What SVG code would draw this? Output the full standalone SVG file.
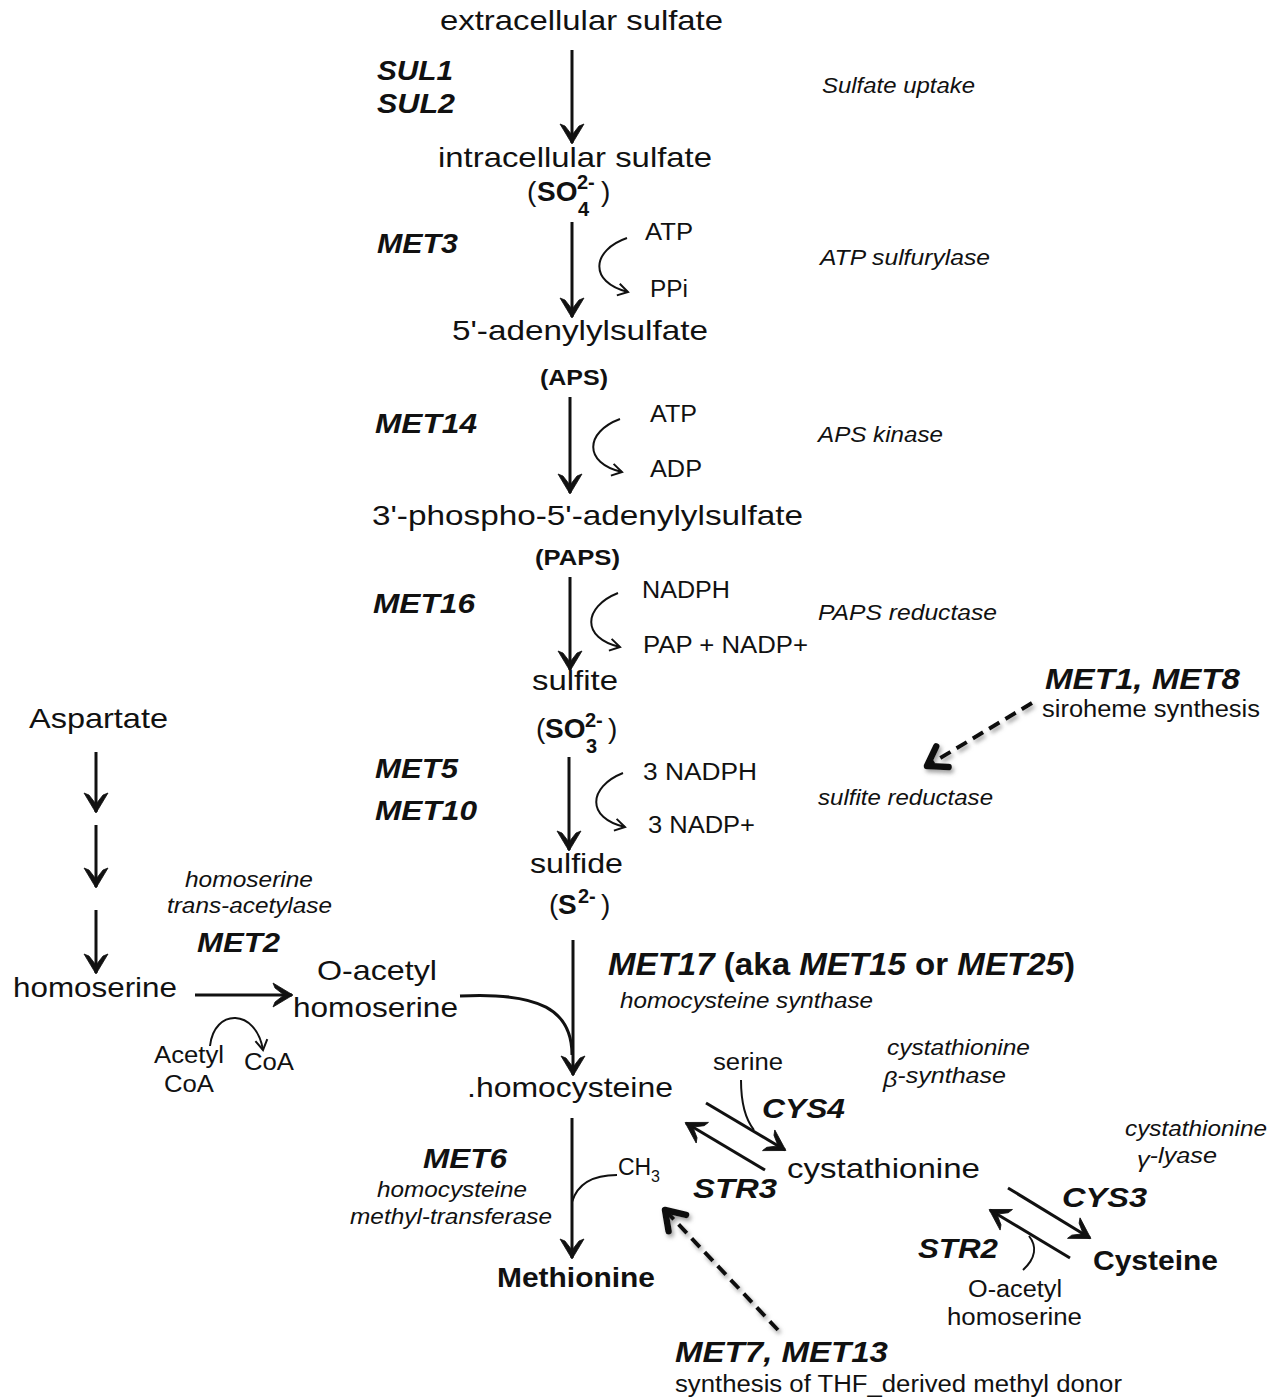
<svg xmlns="http://www.w3.org/2000/svg" width="1277" height="1400" viewBox="0 0 1277 1400">
<style>
text{font-family:"Liberation Sans",Arial,sans-serif;fill:#111}
.c{font-size:28px}
.cb{font-size:27px;font-weight:bold}
.ab{font-size:22px;font-weight:bold}
.r{font-size:23px}
.g{font-size:28px;font-weight:bold;font-style:italic}
.gb{font-size:29px;font-weight:bold;font-style:italic}
.e{font-size:22px;font-style:italic}
.n{font-size:23px}
.sm{font-size:20px;font-weight:bold}
.ln{fill:none;stroke:#111;stroke-width:3}
.th{fill:none;stroke:#111;stroke-width:2}
.ds{fill:none;stroke:#111;stroke-width:4;stroke-dasharray:12 7}
</style>
<defs>
<marker id="arr" markerUnits="userSpaceOnUse" orient="auto" markerWidth="40" markerHeight="40" refX="0" refY="0" overflow="visible">
<path d="M1,0 L-19,-12 L-17,-7 L-8,0 L-17,7 L-19,12 Z" fill="#111" stroke="#111" stroke-width="0.8" stroke-linejoin="round"/>
</marker>
<marker id="oa" markerUnits="userSpaceOnUse" orient="auto" markerWidth="30" markerHeight="30" refX="0" refY="0" overflow="visible">
<path d="M-10,-6 L0,0 L-10,6" fill="none" stroke="#111" stroke-width="2"/>
</marker>
<marker id="da" markerUnits="userSpaceOnUse" orient="auto" markerWidth="40" markerHeight="40" refX="0" refY="0" overflow="visible">
<path d="M-18,-12 L0,0 L-18,12" fill="none" stroke="#111" stroke-width="6.5" stroke-linecap="round" stroke-linejoin="round"/>
</marker>
<filter id="sh" x="-20%" y="-20%" width="140%" height="140%">
<feDropShadow dx="2" dy="3" stdDeviation="2" flood-color="#777" flood-opacity="0.7"/>
</filter>
</defs>
<rect width="1277" height="1400" fill="#fff"/>

<g id="connectors">
<line class="ln" x1="572" y1="50" x2="572" y2="143" marker-end="url(#arr)"/>
<line class="ln" x1="572" y1="222" x2="572" y2="317" marker-end="url(#arr)"/>
<line class="ln" x1="570" y1="397" x2="570" y2="493" marker-end="url(#arr)"/>
<line class="ln" x1="570" y1="577" x2="570" y2="670" marker-end="url(#arr)"/>
<line class="ln" x1="569" y1="757" x2="569" y2="850" marker-end="url(#arr)"/>
<line class="ln" x1="573" y1="940" x2="573" y2="1075" marker-end="url(#arr)"/>
<line class="ln" x1="572" y1="1118" x2="572" y2="1258" marker-end="url(#arr)"/>
<path class="th" d="M627,238 C592,250 588,282 628,292" marker-end="url(#oa)"/>
<path class="th" d="M620,419 C585,432 583,463 622,472" marker-end="url(#oa)"/>
<path class="th" d="M618,593 C583,607 581,638 620,647" marker-end="url(#oa)"/>
<path class="th" d="M623,773 C588,787 586,818 625,827" marker-end="url(#oa)"/>
<line class="ln" x1="96" y1="752" x2="96" y2="812" marker-end="url(#arr)"/>
<line class="ln" x1="96" y1="825" x2="96" y2="887" marker-end="url(#arr)"/>
<line class="ln" x1="96" y1="910" x2="96" y2="973" marker-end="url(#arr)"/>
<line class="ln" x1="195" y1="995" x2="292" y2="995" marker-end="url(#arr)"/>
<path class="th" d="M210,1046 C214,1008 256,1008 263,1050" marker-end="url(#oa)"/>
<path class="ln" d="M460,996 C540,992 572,1010 572,1055"/>
<line class="ln" x1="706" y1="1103" x2="785" y2="1150" marker-end="url(#arr)"/>
<line class="ln" x1="765" y1="1170" x2="686" y2="1123" marker-end="url(#arr)"/>
<path class="th" d="M741,1080 C741,1105 746,1120 754,1130"/>
<line class="ln" x1="1008" y1="1188" x2="1090" y2="1238" marker-end="url(#arr)"/>
<line class="ln" x1="1070" y1="1258" x2="990" y2="1210" marker-end="url(#arr)"/>
<path class="th" d="M1023,1270 C1036,1258 1037,1246 1029,1236"/>
<path class="th" d="M572,1202 C578,1182 596,1175 617,1175"/>
<g filter="url(#sh)">
<line class="ds" x1="1032" y1="703" x2="927" y2="766" marker-end="url(#da)"/>
<line class="ds" x1="778" y1="1330" x2="665" y2="1210" marker-end="url(#da)"/>
</g>
</g>

<g id="extracellular-sulfate"><text class="c" x="440" y="30" textLength="283" lengthAdjust="spacingAndGlyphs">extracellular sulfate</text></g>
<g id="intracellular-sulfate">
<text class="c" x="438" y="167" textLength="274" lengthAdjust="spacingAndGlyphs">intracellular sulfate</text>
<text class="c"><tspan x="527" y="201">(</tspan><tspan x="537" y="201" font-weight="bold">SO</tspan><tspan x="578" y="216" class="sm">4</tspan><tspan x="577" y="189" class="sm">2-</tspan><tspan x="601" y="201">)</tspan></text>
</g>
<g id="aps">
<text class="c" x="452" y="340" textLength="256" lengthAdjust="spacingAndGlyphs">5'-adenylylsulfate</text>
<text class="ab" x="540" y="385" textLength="68" lengthAdjust="spacingAndGlyphs">(APS)</text>
</g>
<g id="paps">
<text class="c" x="372" y="525" textLength="431" lengthAdjust="spacingAndGlyphs">3'-phospho-5'-adenylylsulfate</text>
<text class="ab" x="535" y="565" textLength="85" lengthAdjust="spacingAndGlyphs">(PAPS)</text>
</g>
<g id="sulfite">
<text class="c" x="532" y="690" textLength="86" lengthAdjust="spacingAndGlyphs">sulfite</text>
<text class="c"><tspan x="536" y="738">(</tspan><tspan x="545" y="738" font-weight="bold">SO</tspan><tspan x="586" y="753" class="sm">3</tspan><tspan x="585" y="727" class="sm">2-</tspan><tspan x="608" y="738">)</tspan></text>
</g>
<g id="sulfide">
<text class="c" x="530" y="873" textLength="93" lengthAdjust="spacingAndGlyphs">sulfide</text>
<text class="c"><tspan x="549" y="914">(</tspan><tspan x="558" y="914" font-weight="bold">S</tspan><tspan x="578" y="903" class="sm">2-</tspan><tspan x="601" y="914">)</tspan></text>
</g>
<g id="cofactors">
<text class="r" x="645" y="240" textLength="48" lengthAdjust="spacingAndGlyphs">ATP</text>
<text class="r" x="650" y="297" textLength="38" lengthAdjust="spacingAndGlyphs">PPi</text>
<text class="r" x="650" y="422" textLength="47" lengthAdjust="spacingAndGlyphs">ATP</text>
<text class="r" x="650" y="477" textLength="52" lengthAdjust="spacingAndGlyphs">ADP</text>
<text class="r" x="642" y="598" textLength="88" lengthAdjust="spacingAndGlyphs">NADPH</text>
<text class="r" x="643" y="653" textLength="165" lengthAdjust="spacingAndGlyphs">PAP + NADP+</text>
<text class="r" x="643" y="780" textLength="114" lengthAdjust="spacingAndGlyphs">3 NADPH</text>
<text class="r" x="648" y="833" textLength="107" lengthAdjust="spacingAndGlyphs">3 NADP+</text>
</g>
<g id="genes">
<text class="g" x="377" y="80" textLength="76" lengthAdjust="spacingAndGlyphs">SUL1</text>
<text class="g" x="377" y="113" textLength="78" lengthAdjust="spacingAndGlyphs">SUL2</text>
<text class="g" x="377" y="253" textLength="81" lengthAdjust="spacingAndGlyphs">MET3</text>
<text class="g" x="375" y="433" textLength="102" lengthAdjust="spacingAndGlyphs">MET14</text>
<text class="g" x="373" y="613" textLength="102" lengthAdjust="spacingAndGlyphs">MET16</text>
<text class="g" x="375" y="778" textLength="83" lengthAdjust="spacingAndGlyphs">MET5</text>
<text class="g" x="375" y="820" textLength="102" lengthAdjust="spacingAndGlyphs">MET10</text>
</g>
<g id="enzymes">
<text class="e" x="822" y="93" textLength="153" lengthAdjust="spacingAndGlyphs">Sulfate uptake</text>
<text class="e" x="820" y="265" textLength="170" lengthAdjust="spacingAndGlyphs">ATP sulfurylase</text>
<text class="e" x="818" y="442" textLength="125" lengthAdjust="spacingAndGlyphs">APS kinase</text>
<text class="e" x="818" y="620" textLength="179" lengthAdjust="spacingAndGlyphs">PAPS reductase</text>
<text class="e" x="818" y="805" textLength="175" lengthAdjust="spacingAndGlyphs">sulfite reductase</text>
</g>
<g id="met1-met8">
<text class="gb" x="1045" y="689" textLength="195" lengthAdjust="spacingAndGlyphs">MET1, MET8</text>
<text class="n" x="1042" y="717" textLength="218" lengthAdjust="spacingAndGlyphs">siroheme synthesis</text>
</g>
<g id="aspartate"><text class="c" x="29" y="728" textLength="139" lengthAdjust="spacingAndGlyphs">Aspartate</text></g>
<g id="homoserine"><text class="c" x="13" y="997" textLength="164" lengthAdjust="spacingAndGlyphs">homoserine</text></g>
<g id="met2">
<text class="e" x="185" y="887" textLength="128" lengthAdjust="spacingAndGlyphs">homoserine</text>
<text class="e" x="167" y="913" textLength="165" lengthAdjust="spacingAndGlyphs">trans-acetylase</text>
<text class="g" x="197" y="952" textLength="83" lengthAdjust="spacingAndGlyphs">MET2</text>
<text class="r" x="154" y="1063" textLength="70" lengthAdjust="spacingAndGlyphs">Acetyl</text>
<text class="r" x="164" y="1092" textLength="50" lengthAdjust="spacingAndGlyphs">CoA</text>
<text class="r" x="244" y="1070" textLength="50" lengthAdjust="spacingAndGlyphs">CoA</text>
</g>
<g id="o-acetylhomoserine">
<text class="c" x="317" y="980" textLength="120" lengthAdjust="spacingAndGlyphs">O-acetyl</text>
<text class="c" x="293" y="1017" textLength="165" lengthAdjust="spacingAndGlyphs">homoserine</text>
</g>
<g id="met17">
<text style="font-size:32px;font-weight:bold" x="608" y="975" textLength="467" lengthAdjust="spacingAndGlyphs"><tspan font-style="italic">MET17</tspan> (aka <tspan font-style="italic">MET15</tspan> or <tspan font-style="italic">MET25</tspan>)</text>
<text class="e" x="620" y="1008" textLength="253" lengthAdjust="spacingAndGlyphs">homocysteine synthase</text>
</g>
<g id="homocysteine"><text class="c" x="467" y="1097" textLength="206" lengthAdjust="spacingAndGlyphs">.homocysteine</text></g>
<g id="cys4">
<text class="r" x="713" y="1070" textLength="70" lengthAdjust="spacingAndGlyphs">serine</text>
<text class="e" x="887" y="1055" textLength="143" lengthAdjust="spacingAndGlyphs">cystathionine</text>
<text class="e" x="883" y="1083" textLength="123" lengthAdjust="spacingAndGlyphs"><tspan dy="4">β</tspan><tspan dy="-4">-synthase</tspan></text>
<text class="g" x="762" y="1118" textLength="83" lengthAdjust="spacingAndGlyphs">CYS4</text>
<text class="g" x="693" y="1198" textLength="84" lengthAdjust="spacingAndGlyphs">STR3</text>
</g>
<g id="cystathionine"><text class="c" x="787" y="1178" textLength="193" lengthAdjust="spacingAndGlyphs">cystathionine</text></g>
<g id="met6">
<text class="g" x="423" y="1168" textLength="84" lengthAdjust="spacingAndGlyphs">MET6</text>
<text class="e" x="377" y="1197" textLength="150" lengthAdjust="spacingAndGlyphs">homocysteine</text>
<text class="e" x="350" y="1224" textLength="202" lengthAdjust="spacingAndGlyphs">methyl-transferase</text>
<text class="r"><tspan x="618" y="1175">CH</tspan><tspan x="651" y="1182" font-size="16">3</tspan></text>
</g>
<g id="methionine"><text class="cb" x="497" y="1287" textLength="158" lengthAdjust="spacingAndGlyphs">Methionine</text></g>
<g id="cys3">
<text class="e" x="1125" y="1136" textLength="142" lengthAdjust="spacingAndGlyphs">cystathionine</text>
<text class="e" x="1137" y="1163" textLength="80" lengthAdjust="spacingAndGlyphs"><tspan dy="4">γ</tspan><tspan dy="-4">-lyase</tspan></text>
<text class="g" x="1062" y="1207" textLength="85" lengthAdjust="spacingAndGlyphs">CYS3</text>
<text class="g" x="918" y="1258" textLength="80" lengthAdjust="spacingAndGlyphs">STR2</text>
<text class="r" x="968" y="1297" textLength="94" lengthAdjust="spacingAndGlyphs">O-acetyl</text>
<text class="r" x="947" y="1325" textLength="135" lengthAdjust="spacingAndGlyphs">homoserine</text>
</g>
<g id="cysteine"><text class="cb" x="1093" y="1270" textLength="125" lengthAdjust="spacingAndGlyphs">Cysteine</text></g>
<g id="met7-met13">
<text class="gb" x="675" y="1362" textLength="213" lengthAdjust="spacingAndGlyphs">MET7, MET13</text>
<text class="n" x="675" y="1392" textLength="447" lengthAdjust="spacingAndGlyphs">synthesis of THF_derived methyl donor</text>
</g>
</svg>
